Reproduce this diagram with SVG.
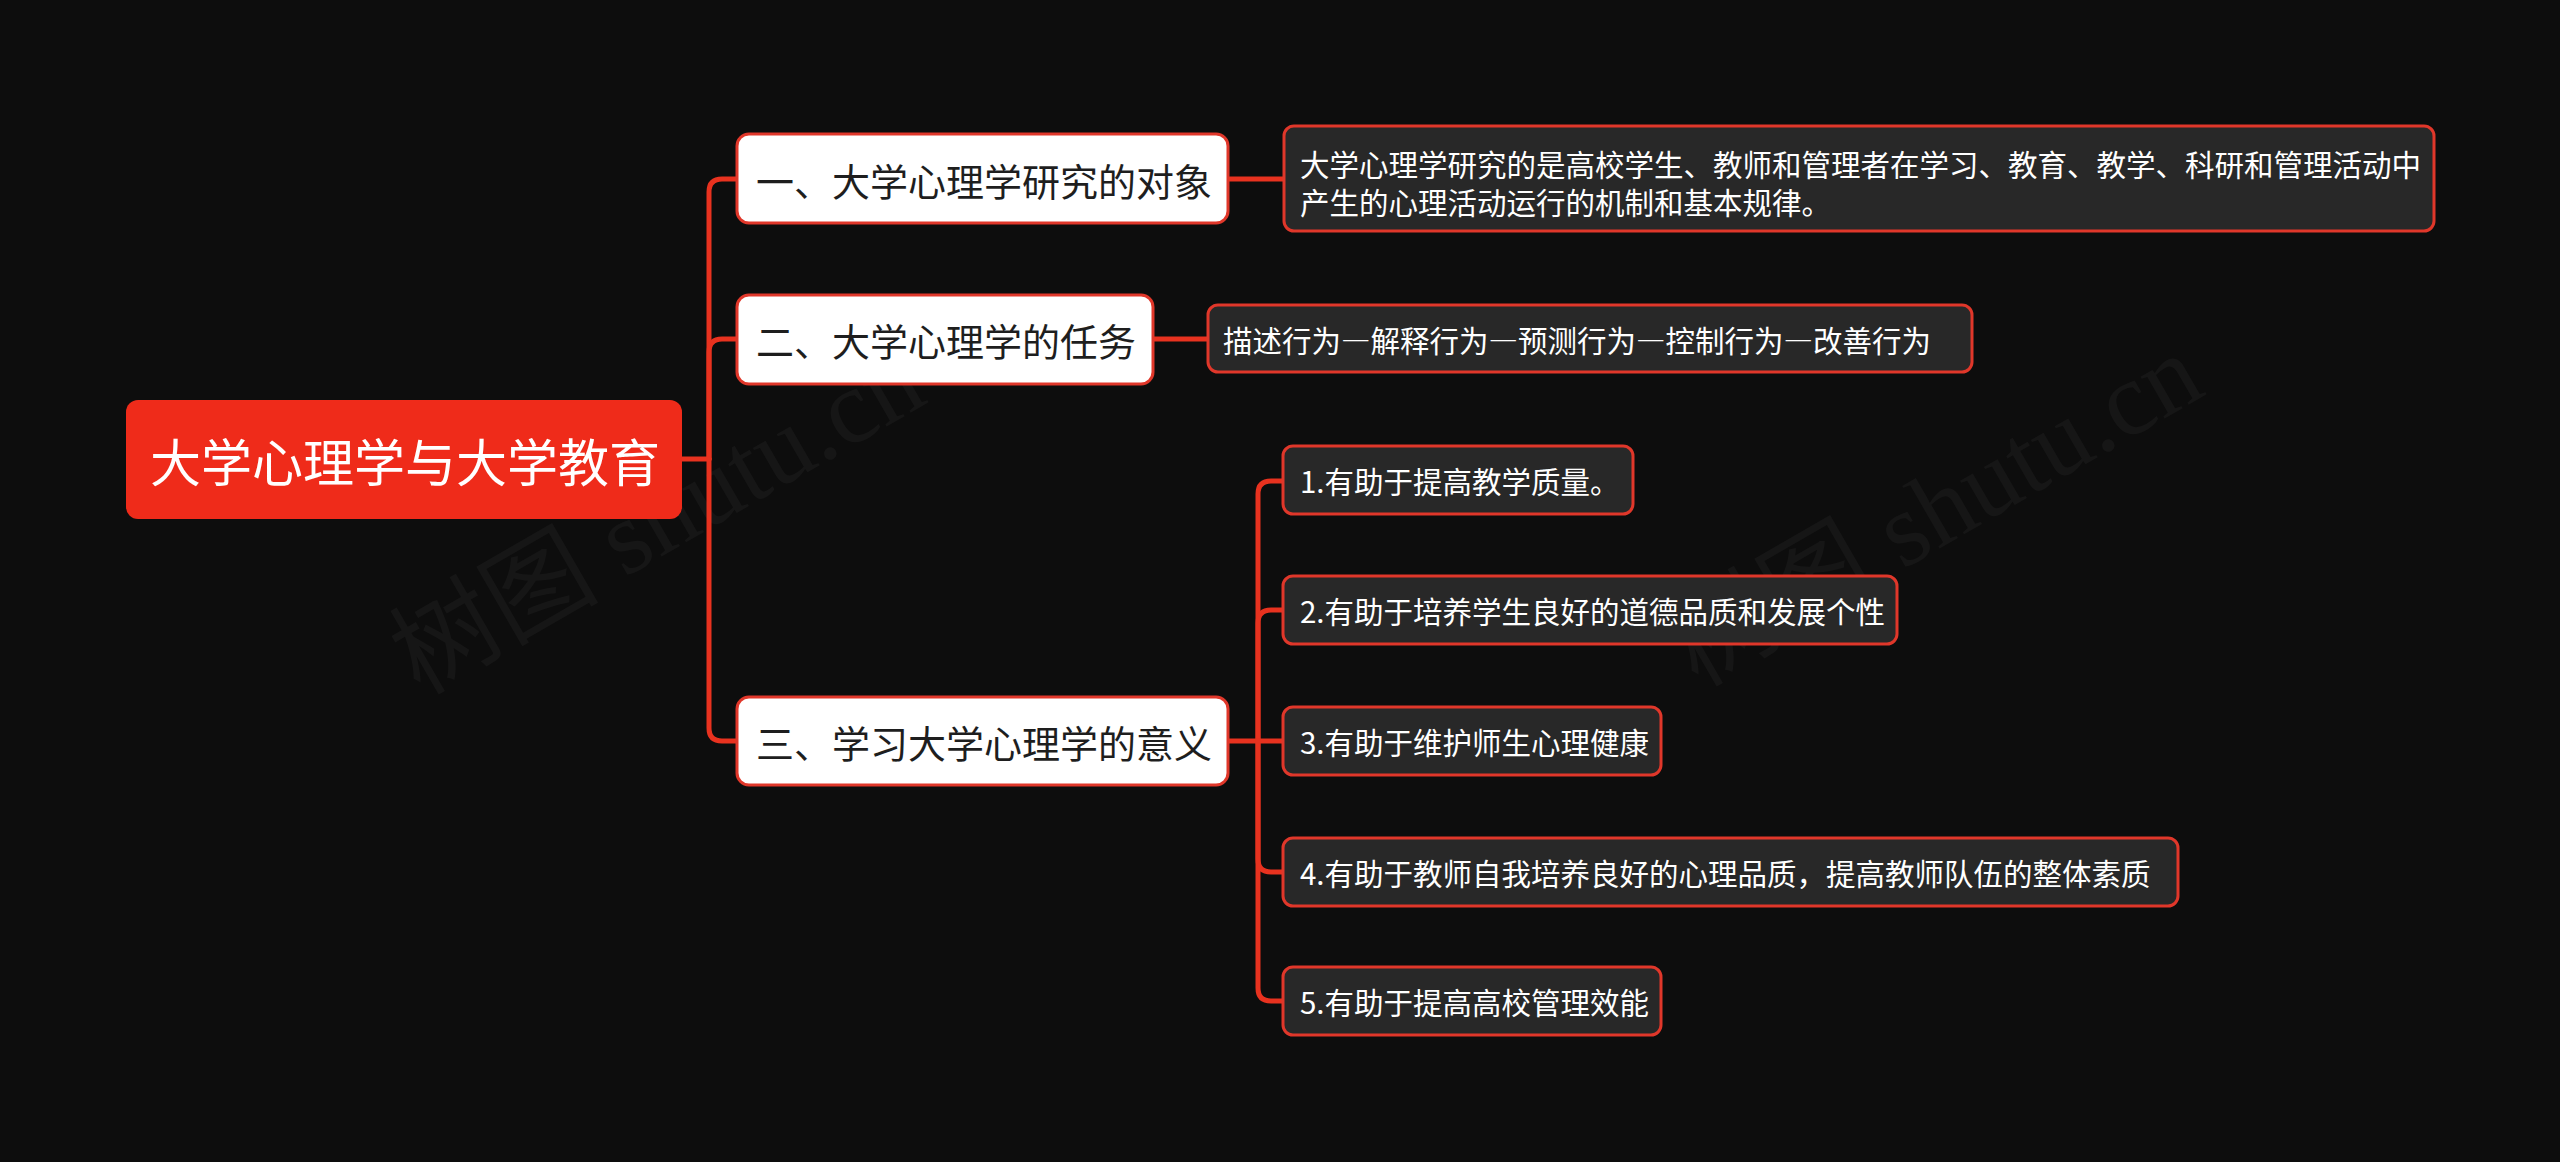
<svg xmlns="http://www.w3.org/2000/svg" width="2560" height="1162" viewBox="0 0 2560 1162">
<style>
.bg{fill:#0d0d0d}
.root{fill:#ef2b1a}
.main{fill:#ffffff;stroke:#e0372a;stroke-width:3}
.leaf{fill:#282828;stroke:#e0372a;stroke-width:3}
.conn{fill:none;stroke:#e8321f;stroke-width:5;stroke-linecap:round;stroke-linejoin:round}
text{font-family:"Noto Sans CJK SC","Noto Sans",sans-serif;dominant-baseline:central}
.rt{fill:#ffffff;font-size:51px}
.mt{fill:#1e1e1e;font-size:38px}
.lt{fill:#ffffff;font-size:29.5px}
.fw{font-feature-settings:"fwid" 1}
.wm{font-family:"Liberation Serif","Noto Sans CJK SC",serif;font-size:105px;fill:#ffffff;fill-opacity:0.04;text-anchor:middle}
</style>
<rect class="bg" x="0" y="0" width="2560" height="1162"/>
<g id="watermarks">
<text class="wm" transform="translate(657,518) rotate(-30)">树图 shutu.cn</text>
<text class="wm" transform="translate(1935,510) rotate(-30)">树图 shutu.cn</text>
</g>
<g id="connectors">
<path class="conn" d="M681 459 H709"/>
<path class="conn" d="M709 459 V192 Q709 179 722 179 H737"/>
<path class="conn" d="M709 459 V352 Q709 339 722 339 H737"/>
<path class="conn" d="M709 459 V728 Q709 741 722 741 H737"/>
<path class="conn" d="M1228 179 H1284"/>
<path class="conn" d="M1153 339 H1208"/>
<path class="conn" d="M1228 741 H1258"/>
<path class="conn" d="M1258 741 V494 Q1258 481 1271 481 H1283"/>
<path class="conn" d="M1258 741 V623 Q1258 610 1271 610 H1283"/>
<path class="conn" d="M1258 741 H1283"/>
<path class="conn" d="M1258 741 V859 Q1258 872 1271 872 H1283"/>
<path class="conn" d="M1258 741 V988 Q1258 1001 1271 1001 H1283"/>
</g>
<g id="root">
<rect class="root" x="126" y="400" width="556" height="119" rx="12"/>
<text class="rt" x="150" y="460">大学心理学与大学教育</text>
</g>
<g id="n1">
<rect class="main" x="737" y="134" width="491" height="89" rx="12"/>
<text class="mt" x="756" y="179">一、大学心理学研究的对象</text>
</g>
<g id="n2">
<rect class="main" x="737" y="295" width="416" height="89" rx="12"/>
<text class="mt" x="756" y="339">二、大学心理学的任务</text>
</g>
<g id="n3">
<rect class="main" x="737" y="697" width="491" height="88" rx="12"/>
<text class="mt" x="756" y="741">三、学习大学心理学的意义</text>
</g>
<g id="d1">
<rect class="leaf" x="1284" y="126" width="1150" height="105" rx="10"/>
<text class="lt" x="1300" y="163">大学心理学研究的是高校学生、教师和管理者在学习、教育、教学、科研和管理活动中</text>
<text class="lt" x="1300" y="201">产生的心理活动运行的机制和基本规律。</text>
</g>
<g id="d2">
<rect class="leaf" x="1208" y="305" width="764" height="67" rx="10"/>
<text class="lt fw" x="1223" y="339">描述行为—解释行为—预测行为—控制行为—改善行为</text>
</g>
<g id="l1">
<rect class="leaf" x="1283" y="446" width="350" height="68" rx="10"/>
<text class="lt" x="1300" y="480">1.有助于提高教学质量。</text>
</g>
<g id="l2">
<rect class="leaf" x="1283" y="576" width="614" height="68" rx="10"/>
<text class="lt" x="1300" y="610">2.有助于培养学生良好的道德品质和发展个性</text>
</g>
<g id="l3">
<rect class="leaf" x="1283" y="707" width="378" height="68" rx="10"/>
<text class="lt" x="1300" y="741">3.有助于维护师生心理健康</text>
</g>
<g id="l4">
<rect class="leaf" x="1283" y="838" width="895" height="68" rx="10"/>
<text class="lt" x="1300" y="872">4.有助于教师自我培养良好的心理品质，提高教师队伍的整体素质</text>
</g>
<g id="l5">
<rect class="leaf" x="1283" y="967" width="378" height="68" rx="10"/>
<text class="lt" x="1300" y="1001">5.有助于提高高校管理效能</text>
</g>
</svg>
